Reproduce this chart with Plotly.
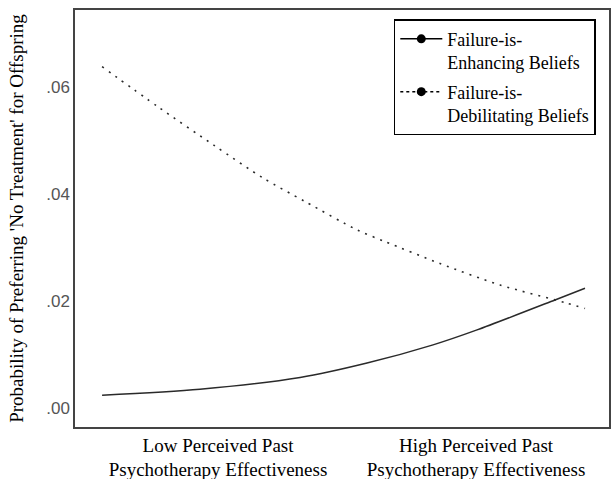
import plotly.graph_objects as go

# x in standardized units of perceived past psychotherapy effectiveness
x_debil = [-1.899, -1.465, -1.031, -0.651, -0.326, 0.078, 0.295, 0.721, 1.186, 1.690, 1.845]
y_debil = [0.0638, 0.0563, 0.0491, 0.0430, 0.0386, 0.0333, 0.0311, 0.0270, 0.0230, 0.0197, 0.0186]

x_enh = [-1.899, -1.140, -0.364, 0.155, 0.667, 1.008, 1.612, 1.845]
y_enh = [0.0024, 0.0035, 0.0057, 0.0084, 0.0118, 0.0146, 0.0202, 0.0224]

x_tickvals = [-1, 1]
x_ticktext = ["Low Perceived Past<br>Psychotherapy Effectiveness",
              "High Perceived Past<br>Psychotherapy Effectiveness"]
y_tickvals = [0.0, 0.02, 0.04, 0.06]
y_ticktext = [".00", ".02", ".04", ".06"]

series_names = ["Failure-is-<br>Enhancing Beliefs", "Failure-is-<br>Debilitating Beliefs"]

LINE = "#2a2a2a"
SERIF = "Liberation Serif, Times New Roman, serif"

fig = go.Figure()
fig.add_trace(go.Scatter(x=x_enh, y=y_enh, mode="lines", showlegend=False,
                         line=dict(color=LINE, width=1.5, shape="spline", smoothing=0.8)))
fig.add_trace(go.Scatter(x=x_debil, y=y_debil, mode="lines", showlegend=False,
                         line=dict(color=LINE, width=1.6, dash="2px,6px", shape="spline", smoothing=0.8)))
# legend entries
fig.add_trace(go.Scatter(x=[None], y=[None], mode="lines+markers", name=series_names[0],
                         legendgroup="a",
                         line=dict(color="black", width=1.5),
                         marker=dict(color="black", size=9)))
fig.add_trace(go.Scatter(x=[None], y=[None], mode="lines+markers", name=series_names[1],
                         legendgroup="b",
                         line=dict(color="black", width=1.5, dash="3px,3px"),
                         marker=dict(color="black", size=9)))

fig.update_layout(
    width=613, height=479,
    margin=dict(l=75, r=4, t=10, b=52),
    paper_bgcolor="white", plot_bgcolor="white",
    font=dict(family=SERIF, size=17, color="black"),
    legend=dict(x=0.597, y=0.978, xanchor="left", yanchor="top", valign="top",
                bordercolor="black", borderwidth=1.5, bgcolor="white",
                font=dict(family=SERIF, size=18, color="black"),
                itemwidth=42, tracegroupgap=3),
    xaxis=dict(range=[-2.109, 2.031], tickvals=x_tickvals, ticktext=x_ticktext,
               showgrid=False, zeroline=False, showline=True, mirror=True,
               linecolor="#444", linewidth=1.5, ticks="", automargin=False,
               tickfont=dict(family=SERIF, size=19, color="black")),
    yaxis=dict(range=[-0.00355, 0.0744], tickvals=y_tickvals, ticktext=y_ticktext,
               showgrid=False, zeroline=False, showline=True, mirror=True,
               linecolor="#444", linewidth=1.5, ticks="", automargin=False,
               tickfont=dict(family="Liberation Sans, Arial, sans-serif", size=17, color="#555"),
               title=dict(text="Probability of Preferring 'No Treatment' for Offspring",
                          font=dict(family=SERIF, size=19, color="black"), standoff=18)),
)

fig.write_html("out.html", config={"displayModeBar": False},
               post_script="document.body.style.margin='0';document.body.style.padding='0';")
